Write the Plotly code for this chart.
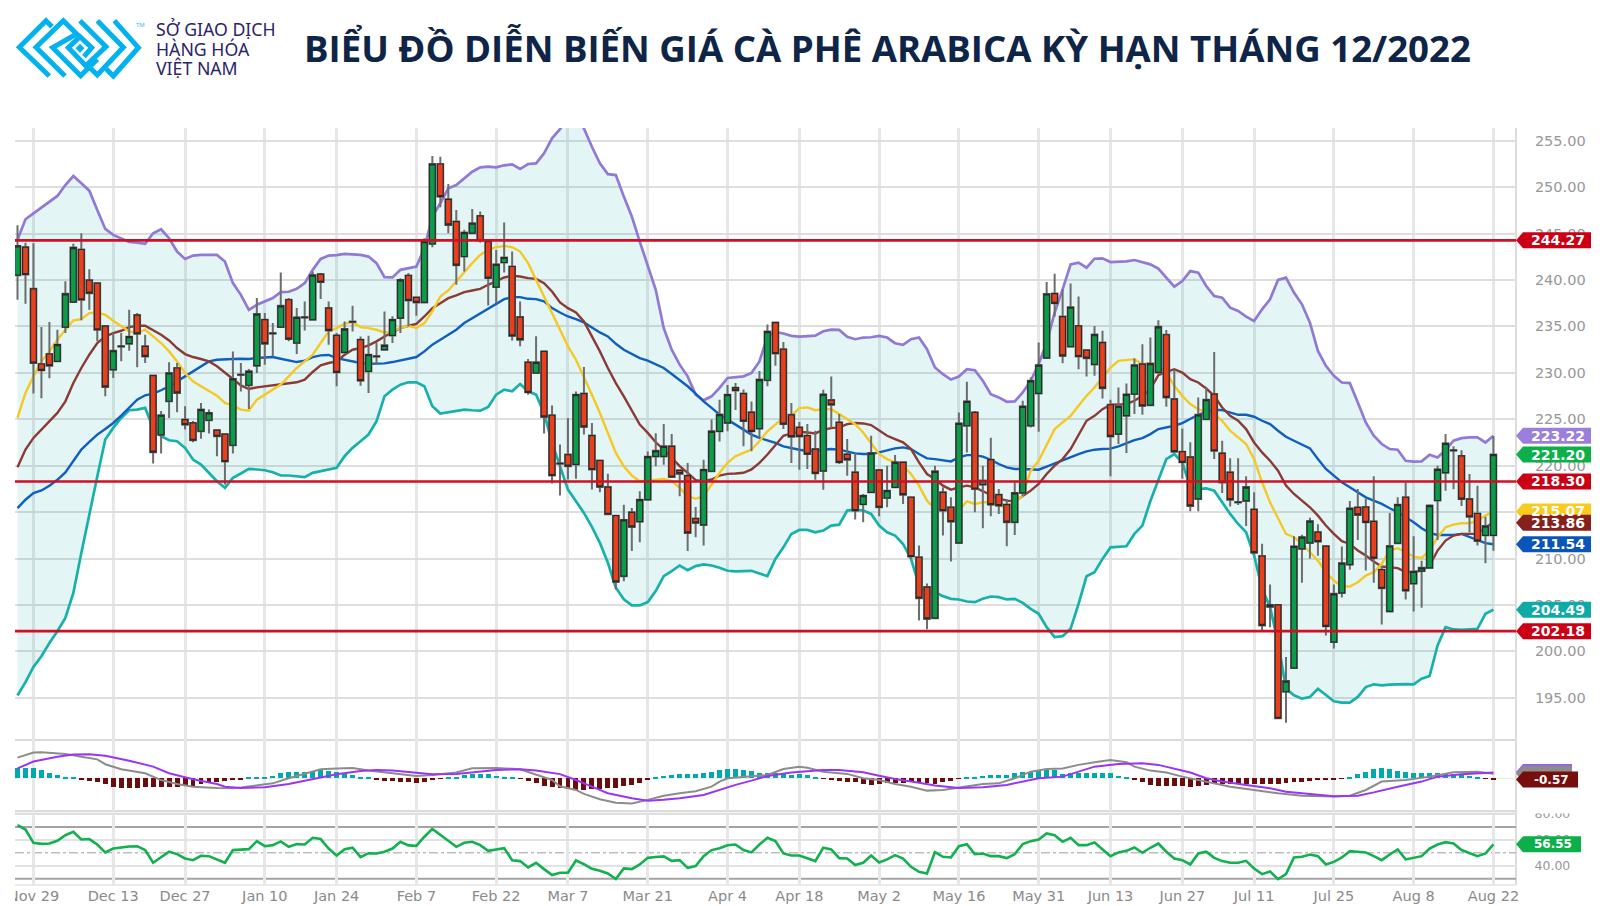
import plotly.graph_objects as go

W, H = 1602, 906
BAR0, BARW = 17.5, 7.978
PLOT_L, PLOT_R = 15, 1516

title_text = "BIỂU ĐỒ DIỄN BIẾN GIÁ CÀ PHÊ ARABICA KỲ HẠN THÁNG 12/2022"
logo_lines = ["SỞ GIAO DỊCH", "HÀNG HÓA", "VIỆT NAM"]

tick_pos = [2, 12, 21, 31, 40, 50, 60, 69, 79, 89, 98, 108, 118, 128, 137, 146, 155, 165, 175, 185]
tick_labels = ["Nov 29", "Dec 13", "Dec 27", "Jan 10", "Jan 24", "Feb 7", "Feb 22", "Mar 7", "Mar 21", "Apr 4",
               "Apr 18", "May 2", "May 16", "May 31", "Jun 13", "Jun 27", "Jul 11", "Jul 25", "Aug 8", "Aug 22"]

opens = [240.52,243.53,239.05,230.95,232.03,231.24,234.93,237.62,243.28,239.98,
 239.66,235.04,230.34,232.87,233.14,236.22,232.85,229.7,223.32,226.94,
 230.52,224.96,224.6,223.71,224.89,223.82,223.39,222.2,229.82,228.66,
 230.77,235.72,234.27,234.93,237.87,233.21,235.99,235.72,240.63,236.97,
 234.03,232.2,235.52,233.57,230.16,231.79,232.49,234.03,235.9,240.48,
 238.12,237.58,243.89,252.49,248.69,246.29,242.53,245.04,246.9,244.14,
 239.23,241.88,241.45,236.0,231.13,229.98,232.31,225.43,220.25,221.2,
 220.13,227.76,223.24,220.56,217.7,214.62,208.1,214.98,213.98,216.34,
 221.0,221.0,222.08,219.5,218.92,214.3,213.62,219.4,223.7,224.6,
 228.4,227.76,225.75,224.0,229.2,235.41,232.54,225.48,224.12,223.23,
 221.79,219.43,227.06,224.66,221.22,219.28,215.84,217.13,219.53,216.52,
 217.67,220.36,216.6,210.14,206.92,203.58,217.13,215.52,211.68,224.3,
 225.73,217.96,220.65,216.88,215.81,213.91,217.06,224.3,227.78,231.61,
 238.53,236.06,232.83,235.05,232.44,230.9,233.26,226.56,223.4,225.38,
 227.71,230.93,226.52,230.04,234.1,227.17,221.51,220.93,216.42,225.0,
 227.71,221.33,219.28,216.08,216.2,215.29,210.27,205.0,205.0,195.65,
 198.2,211.05,211.68,212.84,211.33,201.0,206.3,209.35,215.5,215.55,
 214.0,208.8,204.3,211.65,216.6,207.3,208.65,209.0,216.25,219.25,
 221.67,221.05,216.4,214.85,212.5,212.5]
highs = [245.9,244.0,243.96,234.93,235.47,234.64,239.87,243.9,245.04,241.16,
 239.7,235.1,234.28,234.28,236.79,236.43,234.1,229.8,225.9,231.13,
 231.06,226.4,224.8,226.76,226.04,223.89,223.46,232.31,231.06,230.4,
 238.05,236.43,235.36,240.81,238.05,236.97,237.69,240.9,240.74,237.69,
 234.28,235.54,237.22,233.9,234.0,233.2,236.61,236.1,240.18,240.74,
 238.2,244.5,253.35,253.28,250.34,247.54,245.4,247.65,247.37,244.3,
 243.24,246.18,243.06,237.69,231.5,233.93,232.3,226.47,222.28,225.14,
 228.0,230.63,224.6,220.6,219.14,214.7,215.8,215.45,217.24,221.54,
 223.5,224.5,223.4,219.6,220.3,215.56,220.65,224.96,227.1,228.7,
 228.9,228.2,226.9,230.2,235.2,235.5,233.33,226.74,224.7,224.48,
 223.76,228.17,229.61,225.56,222.87,221.43,216.95,223.23,219.64,220.0,
 221.15,220.4,216.6,211.4,207.3,220.0,217.67,216.6,225.73,229.03,
 225.9,220.0,223.0,217.5,216.4,218.2,227.0,229.5,233.26,239.78,
 240.68,239.0,239.61,238.21,232.5,235.05,234.52,227.1,228.42,228.85,
 231.54,233.08,233.8,235.66,234.62,230.36,224.0,222.51,227.35,228.42,
 232.25,222.69,220.79,220.8,218.85,217.15,211.6,207.2,205.1,199.4,
 212.4,212.55,214.4,213.7,211.4,207.2,211.3,216.2,217.5,216.4,
 218.85,209.2,214.9,216.6,218.2,212.4,209.75,215.85,220.0,223.4,
 222.1,221.65,219.1,217.85,214.5,223.2]
lows = [237.87,237.44,227.76,227.26,229.41,231.24,234.28,237.6,235.65,236.79,
 233.39,227.47,229.44,231.24,232.38,230.59,231.06,220.23,221.3,225.14,
 225.75,223.89,222.53,222.89,223.46,221.02,217.97,221.3,228.0,226.1,
 229.98,230.88,231.77,234.93,233.39,232.03,234.57,235.72,237.94,233.03,
 228.55,232.2,234.46,228.62,227.83,230.88,232.49,233.2,234.28,235.0,
 236.15,237.58,243.53,247.83,245.04,239.48,240.9,245.0,244.03,237.26,
 237.5,240.8,233.49,232.85,227.65,229.9,223.46,218.08,216.8,218.5,
 218.6,223.35,217.44,217.15,214.75,206.67,207.56,210.8,211.76,216.34,
 219.93,220.1,218.7,216.7,210.8,212.3,211.4,219.3,222.6,223.7,
 226.0,222.1,221.56,223.0,228.55,230.77,223.94,220.29,219.57,219.64,
 218.49,217.42,224.12,220.18,218.92,214.19,213.9,217.06,214.55,215.52,
 217.67,215.88,209.96,203.33,202.37,203.5,212.47,209.68,211.68,221.43,
 214.98,213.26,214.55,214.8,211.33,212.54,216.7,224.12,223.66,231.6,
 236.06,231.04,232.83,230.39,229.61,229.68,227.24,218.85,222.33,221.36,
 225.56,225.48,226.5,229.9,226.34,221.43,218.6,215.1,215.1,225.0,
 220.72,217.06,215.6,215.77,213.5,210.45,202.3,202.6,192.7,192.3,
 198.2,207.4,210.0,210.3,201.7,200.3,205.8,208.8,212.0,208.7,
 207.4,202.9,204.3,211.65,205.6,204.3,204.7,208.9,212.0,217.3,
 217.45,215.65,212.8,211.4,209.5,210.85]
closes = [243.67,240.59,231.06,230.27,230.77,233.03,238.51,243.49,237.87,238.58,
 234.64,228.48,232.38,232.83,233.89,234.21,231.77,221.45,225.43,229.98,
 227.83,224.43,222.74,226.04,225.68,223.17,220.45,229.34,229.78,230.16,
 236.33,233.14,234.23,237.22,233.64,235.97,235.95,240.52,239.77,234.57,
 230.05,234.71,235.48,229.16,231.95,231.75,232.96,235.72,240.0,237.8,
 237.58,244.14,252.49,248.98,245.93,241.59,245.11,246.11,244.25,240.2,
 241.67,242.42,233.99,233.57,227.9,231.13,225.25,218.94,220.21,219.95,
 227.65,224.18,219.59,217.72,214.77,207.49,214.16,213.4,216.34,220.97,
 221.6,222.08,218.78,219.14,212.76,213.84,219.57,223.7,225.5,227.65,
 228.1,224.8,223.7,229.27,234.44,232.08,224.48,223.12,223.15,221.25,
 219.18,227.67,226.56,220.36,220.65,215.16,216.77,221.36,215.52,217.31,
 220.36,216.88,210.22,205.73,203.51,219.39,215.16,213.98,224.55,226.92,
 217.49,218.39,215.81,215.7,213.91,217.06,226.38,229.14,230.82,238.49,
 237.49,231.83,237.06,231.76,231.58,234.12,228.35,223.15,226.38,227.67,
 230.82,226.45,231.0,234.95,227.35,221.51,220.36,215.66,225.48,227.1,
 221.61,218.2,216.34,216.04,217.7,210.63,202.8,204.8,192.8,196.8,
 211.3,212.3,214.02,211.83,202.7,206.2,209.5,215.4,214.7,213.9,
 210.05,206.8,211.35,215.8,206.55,208.6,209.0,215.7,219.6,222.4,
 221.63,216.4,214.5,211.9,213.5,221.2]

band_upper = [244.32,246.54,247.18,247.83,248.44,249.05,250.23,251.2,250.41,249.62,
 247.54,245.5,244.85,244.46,244.1,244.03,243.89,245.03,245.46,244.5,
 243.06,242.27,242.63,242.7,242.7,242.7,241.99,239.66,238.4,236.79,
 237.33,237.69,238.05,238.69,238.73,239.05,239.66,241.09,242.27,242.63,
 242.67,242.81,242.78,242.7,242.52,241.81,240.3,240.27,241.09,241.27,
 241.45,243.42,246.83,248.26,249.87,250.23,250.95,251.66,252.13,252.2,
 252.13,252.35,252.45,251.95,252.49,252.56,253.64,255.25,256.25,257.6,
 257.6,256.32,254.35,252.56,251.4,251.3,248.98,246.83,244.14,241.45,
 238.94,234.82,232.49,230.88,229.62,227.65,227.04,227.47,228.37,229.44,
 229.51,229.62,229.98,231.23,233.92,234.41,234.23,233.98,233.9,233.94,
 234.01,234.48,234.66,234.62,233.87,233.62,233.8,233.83,233.98,233.8,
 233.19,233.01,233.62,233.8,232.54,230.57,229.85,229.28,229.6,230.39,
 230.28,229.14,227.7,227.35,226.88,226.92,227.88,229.14,230.93,233.26,
 236.48,238.99,241.68,241.86,241.32,242.29,242.33,241.93,241.93,242.0,
 242.15,241.93,241.68,241.22,240.25,239.28,239.89,240.96,240.79,239.35,
 238.28,238.1,237.02,236.66,236.05,235.59,236.84,237.92,240.0,240.25,
 238.64,237.38,235.41,232.36,230.75,229.67,228.96,228.89,226.81,224.66,
 223.22,222.33,221.79,221.72,220.53,220.43,220.46,221.18,220.89,221.68,
 222.69,222.97,223.04,223.04,222.5,223.22]
band_lower = [195.25,196.68,198.33,199.48,200.91,202.17,203.6,206.29,210.59,214.53,
 218.83,222.81,224.07,225.14,225.97,226.04,226.22,224.07,223.17,222.74,
 222.63,221.92,220.66,220.12,219.23,218.33,217.61,218.69,219.16,219.66,
 219.59,219.51,219.3,218.94,218.94,218.83,218.76,219.23,219.41,219.51,
 219.77,221.02,221.92,222.63,223.35,224.78,227.47,228.19,228.73,228.98,
 228.98,228.55,226.4,225.61,225.75,225.93,226.04,225.97,225.93,226.32,
 227.65,228.19,228.01,228.8,228.01,227.65,225.68,222.45,220.0,217.42,
 216.17,214.91,213.41,211.69,209.54,206.85,205.6,204.95,204.95,205.31,
 206.49,208.1,208.64,209.25,208.75,209.18,209.36,209.25,209.0,208.68,
 208.61,208.61,208.68,208.39,208.1,209.96,211.2,212.65,213.08,213.08,
 212.83,213.01,213.55,213.65,215.16,215.27,215.16,214.8,213.55,212.83,
 212.47,211.57,209.96,207.09,206.31,206.38,205.95,205.66,205.59,205.37,
 205.3,205.66,205.91,205.84,205.59,205.66,205.23,204.58,204.05,202.61,
 201.54,201.64,202.43,205.12,208.1,208.53,209.96,211.2,211.29,211.32,
 212.65,213.55,216.2,218.4,220.71,221.25,220.36,217.67,217.49,217.56,
 217.31,216.05,214.8,213.72,212.83,210.32,206.73,204.76,201.0,195.98,
 195.27,194.91,195.09,195.98,195.27,194.62,194.48,194.48,195.09,196.16,
 196.45,196.34,196.41,196.48,196.48,196.45,197.06,197.35,200.64,202.61,
 202.36,202.33,202.36,202.43,204.05,204.49]
ma_yellow = [225.14,227.83,229.62,231.23,232.31,233.56,234.64,235.64,235.79,236.43,
 236.5,236.25,235.61,235.0,234.46,234.28,234.64,233.92,233.21,232.31,
 231.23,229.98,229.08,228.55,228.01,227.54,226.75,226.47,226.04,225.93,
 227.11,227.65,228.12,228.73,229.62,230.52,231.23,231.95,233.21,234.46,
 234.82,235.28,235.46,234.93,234.82,234.64,234.35,234.46,234.82,235.07,
 234.82,235.36,236.61,238.22,238.87,239.84,240.91,241.81,242.7,243.24,
 243.53,243.67,243.53,243.06,241.81,240.02,238.4,236.61,234.64,232.85,
 231.41,229.62,227.65,225.68,223.53,221.38,219.94,218.94,218.33,218.4,
 218.51,218.58,218.33,217.61,216.72,216.43,216.72,217.97,219.23,220.3,
 221.02,221.38,221.74,222.63,223.71,224.42,225.19,225.37,226.2,226.27,
 225.98,226.09,226.09,225.55,225.02,224.48,223.58,222.43,221.25,220.71,
 220.36,219.99,219.1,217.85,216.23,215.34,215.34,214.98,215.16,216.16,
 215.88,216.06,216.06,215.7,215.52,216.06,216.77,219.46,220.53,222.15,
 223.94,224.66,225.37,226.45,227.52,228.42,229.5,230.57,231.29,231.4,
 231.47,230.93,231.04,230.75,230.03,228.6,227.52,226.63,226.09,225.73,
 225.55,224.84,223.76,223.04,222.33,220.71,218.21,216.05,214.26,212.65,
 212.29,211.57,210.68,209.78,208.53,207.63,207.02,206.99,207.45,208.17,
 208.53,209.42,210.86,211.11,210.68,210.21,210.07,210.86,212.29,213.37,
 213.65,213.8,213.8,214.08,214.62,215.07]
ma_brown = [219.84,221.74,222.99,223.89,224.78,225.68,226.93,228.9,230.52,231.95,
 233.21,233.92,234.28,234.53,234.93,235.07,235.07,234.57,234.1,233.49,
 232.67,232.02,231.7,231.49,231.23,230.7,229.98,229.34,228.65,228.26,
 228.44,228.55,228.65,228.8,228.9,228.98,229.26,230.09,230.8,231.06,
 231.23,231.95,232.49,232.67,232.96,233.39,233.92,234.39,234.82,235.07,
 235.28,236.07,236.97,237.5,238.04,238.33,238.69,238.87,239.05,239.48,
 239.84,240.27,240.45,240.37,240.2,240.12,239.66,238.76,237.58,236.97,
 236.5,235.54,233.92,232.31,230.52,228.9,227.47,225.86,224.42,223.53,
 222.52,221.74,220.84,219.95,219.23,218.44,218.33,218.51,218.94,219.12,
 219.16,219.23,219.59,220.3,221.2,222.27,223.22,223.47,223.65,223.58,
 223.47,223.87,224.05,224.12,224.48,224.59,224.55,224.37,223.83,223.22,
 222.86,222.51,221.79,220.36,219.1,218.56,217.85,217.42,217.67,217.85,
 217.67,217.24,216.84,216.48,216.23,216.16,216.77,217.31,218.03,219.1,
 220.0,220.71,221.79,223.4,224.84,225.37,226.09,226.56,226.56,226.63,
 226.99,227.52,228.24,229.75,230.1,230.39,230.03,229.32,228.96,228.31,
 227.52,226.27,225.37,224.84,223.94,222.5,221.43,220.53,219.46,217.85,
 216.95,216.23,215.52,214.62,213.55,212.65,211.86,211.57,210.86,210.32,
 209.67,209.14,209.06,208.96,208.53,208.53,208.7,209.24,210.86,211.93,
 212.47,212.65,212.65,212.65,213.37,213.86]
ma_blue = [215.43,216.33,217.05,217.33,217.84,218.48,219.27,220.45,221.74,222.56,
 223.35,223.96,224.6,225.39,226.22,227.11,227.58,227.76,228.12,228.55,
 229.08,229.62,230.16,230.7,231.23,231.41,231.41,231.49,231.52,231.49,
 231.59,231.66,231.7,231.52,231.31,231.16,231.31,231.7,231.88,231.92,
 231.59,231.41,231.23,231.06,230.98,230.98,231.02,231.16,231.34,231.49,
 231.7,232.31,233.03,233.56,234.1,234.64,235.36,235.89,236.43,236.97,
 237.5,237.94,238.15,238.15,237.97,237.94,237.69,236.97,236.5,236.07,
 235.79,235.43,234.89,234.35,233.92,233.13,232.49,232.02,231.59,231.31,
 230.95,230.52,229.87,229.26,228.55,227.76,226.93,226.22,225.5,224.96,
 224.42,223.89,223.35,222.99,222.74,222.45,222.08,221.86,221.72,221.58,
 221.61,221.72,221.79,221.72,221.5,221.32,221.25,221.25,221.43,221.68,
 221.86,221.97,221.79,221.25,220.79,220.71,220.61,220.46,220.89,221.14,
 221.14,220.97,220.64,220.18,219.82,219.64,219.64,219.64,219.57,219.89,
 220.25,220.53,220.89,221.25,221.54,221.72,221.79,221.83,222.08,222.43,
 222.76,222.97,223.4,223.94,224.12,224.3,224.59,225.02,225.48,225.8,
 226.02,225.98,225.73,225.48,225.48,225.27,224.84,224.48,223.76,223.12,
 222.69,222.26,221.86,220.71,219.64,218.92,218.21,217.67,217.13,216.59,
 216.23,215.88,215.41,214.98,214.44,213.9,213.26,212.76,212.54,212.54,
 212.54,212.65,212.29,211.93,211.65,211.54]

macd_x = [0,1,2,3,4,6,8,10,11,13,16,18,20,22,25,27,28,30,32,34,36,38,40,42,44,47,50,52,55,57,60,63,65,67,
 68,70,71,73,75,77,79,81,83,85,87,88,89,92,94,96,98,99,101,104,106,108,110,112,114,116,118,121,123,125,127,129,131,
 133,135,137,139,140,142,144,146,148,150,152,155,158,161,165,167,169,171,174,177,180,183,185]
macd_line = [9.4,10.6,11.7,11.8,11.5,11.1,9.8,8.6,6.4,4.1,2.3,-0.8,-2.6,-3.8,-4.4,-4.5,-4.2,-3.3,-2.3,0.0,2.0,4.1,4.5,4.7,3.5,2.3,1.06,1.5,2.6,4.6,4.7,4.1,1.5,-0.76,
 -3.6,-5.3,-7.1,-9.5,-11.1,-11.4,-9.8,-7.9,-6.8,-5.9,-3.8,-1.5,0.0,0.76,1.5,4.2,5.2,4.8,3.0,2.0,0.0,-0.8,-2.6,-3.8,-5.6,-5.3,-4.2,-2.6,-2.3,0.0,3.0,4.2,4.5,
 6.1,7.3,8.3,7.3,5.3,3.5,2.6,0.76,-0.76,-2.3,-3.8,-5.3,-6.8,-7.9,-8.3,-7.9,-5.3,-1.5,-0.76,0.76,2.7,3.0,2.03]
signal_x = [0,2,5,7,9,11,14,17,19,22,25,26,28,31,34,36,38,40,43,45,47,50,52,55,57,60,63,65,
 68,70,72,74,77,79,81,83,86,88,90,92,94,97,99,101,103,106,108,110,113,115,118,121,124,126,128,
 131,133,135,138,141,143,145,147,149,151,154,157,159,162,165,168,170,173,176,178,181,185]
signal_line = [4.5,7.6,9.8,10.8,10.9,10.2,8.0,5.3,2.3,-0.45,-2.6,-3.8,-4.4,-4.1,-2.6,-1.06,0.45,1.8,3.3,3.8,3.5,2.6,1.8,2.0,2.7,3.8,4.1,3.5,
 1.9,-0.76,-3.8,-6.8,-9.1,-10.2,-9.8,-9.1,-7.6,-5.3,-3.0,-1.06,1.06,2.6,3.2,3.8,3.8,2.7,1.2,-0.3,-2.0,-3.3,-4.4,-4.1,-3.0,-1.5,0.0,
 0.76,3.0,5.3,6.5,6.8,6.1,4.5,2.6,0.0,-1.5,-3.0,-4.5,-6.1,-7.3,-8.2,-7.9,-6.4,-3.8,-1.5,0.76,1.8,2.6]
macd_hist = [4.5,4.5,4.8,3.8,2.6,1.5,0.8,0.3,-0.8,-1.1,
 -1.5,-2.7,-3.8,-4.5,-4.5,-4.4,-4.1,-4.1,-4.1,-4.1,
 -3.8,-3.5,-3.5,-2.6,-1.8,-1.5,-1.2,-0.8,-0.5,0.15,
 0.5,0.8,1.1,2.3,2.7,3.0,3.0,3.3,3.8,3.5,
 2.7,2.3,1.5,0.5,0.15,-0.8,-1.1,-1.2,-1.5,-1.8,
 -2.0,-1.5,-0.6,-0.3,0.3,0.8,1.4,1.8,1.8,1.8,
 1.2,0.8,0.5,-0.3,-1.1,-2.3,-3.5,-4.1,-4.5,-5.0,
 -5.3,-5.3,-5.0,-5.0,-4.5,-4.2,-3.5,-3.0,-2.0,-0.5,
 0.8,1.1,1.7,1.8,1.8,1.8,2.3,3.0,3.8,4.4,
 4.4,3.8,3.3,2.6,2.3,2.3,1.8,1.5,1.8,1.5,
 0.5,-0.1,-0.8,-1.2,-1.5,-1.8,-2.6,-2.9,-2.6,-2.3,
 -2.3,-2.3,-1.8,-1.8,-2.3,-2.6,-1.5,-1.1,-0.3,0.3,
 0.8,1.1,1.5,1.5,1.5,2.3,3.0,3.0,3.5,3.8,
 3.8,2.0,2.3,2.3,2.3,2.3,2.3,2.3,1.2,0.3,
 -0.8,-1.8,-3.0,-3.3,-3.3,-3.5,-3.5,-3.8,-3.5,-3.0,
 -2.7,-2.6,-2.6,-2.6,-2.7,-2.7,-2.7,-2.4,-2.4,-2.0,
 -1.8,-1.5,-1.2,-0.8,-0.5,-0.5,-0.15,0.3,1.8,2.7,
 4.1,4.8,4.4,3.5,2.7,2.6,2.6,2.3,2.3,2.0,
 2.0,1.5,1.2,0.8,-0.3,-0.57]
rsi = [71.4,68.0,57.7,56.9,57.2,59.3,63.6,66.2,60.3,60.6,
 56.4,50.3,53.3,54.1,54.9,55.1,52.1,42.3,46.4,50.8,
 49.0,45.6,44.3,47.7,47.4,44.9,42.3,52.1,52.6,52.8,
 59.0,55.1,55.9,58.8,54.6,56.7,56.4,61.6,60.6,53.3,
 47.9,52.8,53.9,46.7,49.7,49.5,50.8,53.3,58.5,55.7,
 55.4,62.4,68.5,63.6,59.3,54.6,57.7,58.5,55.9,51.5,
 52.8,53.6,44.3,43.6,38.7,42.3,37.4,32.8,34.6,34.6,
 44.1,41.2,37.6,36.1,34.0,29.7,37.9,37.4,41.0,46.1,
 46.7,47.2,43.8,44.3,38.4,39.7,47.4,52.1,53.6,55.9,
 56.4,52.1,50.3,56.4,61.6,59.0,49.5,47.9,47.9,45.6,
 43.6,53.9,52.6,45.9,45.6,40.5,42.3,47.9,42.5,44.9,
 48.2,45.6,39.2,35.3,34.0,50.5,46.9,46.4,55.1,56.7,
 49.0,49.5,47.4,47.4,45.9,49.0,56.7,59.0,60.3,64.9,
 63.6,58.5,61.6,55.9,55.9,58.0,52.8,47.4,50.3,51.5,
 54.1,50.0,53.9,57.2,50.8,45.6,44.3,41.0,49.5,50.8,
 46.1,43.6,42.3,42.3,43.8,37.9,33.5,35.6,29.7,33.5,
 46.4,46.9,48.7,47.4,41.0,43.0,46.4,51.3,50.8,50.3,
 47.4,44.3,48.7,52.6,44.9,46.4,47.4,53.3,56.4,58.2,
 57.2,52.1,50.0,47.4,49.5,56.55]

price_ticks = [255, 250, 245, 240, 235, 230, 225, 220, 215, 210, 205, 200, 195]
red_levels = [244.27, 218.30, 202.18]
rsi_ticks = [80, 60, 40]
rsi_dark = [70, 30]
rsi_mid = 50

n = len(opens)
bars = list(range(n))

# ---- layout helpers: page pixels to paper fractions
fx = lambda p: p / W
fy = lambda p: 1 - p / H

MAIN_T, MAIN_B = 128, 740
MACD_T, MACD_B = 740, 811
RSI_T, RSI_B = 813.8, 885
x_range = [(PLOT_L - BAR0) / BARW, (PLOT_R - BAR0) / BARW]
px_per_unit = 9.285
main_range = [255 - (MAIN_B - 140.7) / px_per_unit, 255 + (140.7 - MAIN_T) / px_per_unit]
macd_range = [-(MACD_B - 778.3) / 2.2, (778.3 - MACD_T) / 2.2]
rsi_range = [30 - (RSI_B - 878.7) / 1.295, 70 + (826.9 - RSI_T) / 1.295]

GREEN, RED = "#0b9c49", "#e8401d"
C_UP, C_LOW = "#9179d6", "#17b1ab"
C_Y, C_BR, C_BL = "#f6c823", "#8b3b34", "#0f5fbe"

fig = go.Figure()
fill = "rgba(20,170,170,0.115)"
fig.add_trace(go.Scatter(x=bars, y=band_lower, mode="lines", line=dict(color=C_LOW, width=2.7), xaxis="x", yaxis="y", showlegend=False))
fig.add_trace(go.Scatter(x=bars, y=band_upper, mode="lines", line=dict(color=C_UP, width=2.7), fill="tonexty", fillcolor=fill, xaxis="x", yaxis="y", showlegend=False))
for vals, col in [(ma_blue, C_BL), (ma_brown, C_BR), (ma_yellow, C_Y)]:
    fig.add_trace(go.Scatter(x=bars, y=vals, mode="lines", line=dict(color=col, width=2.4), xaxis="x", yaxis="y", showlegend=False))

# candles sit on an overlay axis so they stay above the lines
fig.add_trace(go.Candlestick(x=bars, open=opens, high=highs, low=lows, close=closes, xaxis="x", yaxis="y4", whiskerwidth=0,
                             increasing=dict(line=dict(color="#6d6d6d", width=2), fillcolor=GREEN),
                             decreasing=dict(line=dict(color="#6d6d6d", width=2), fillcolor=RED), showlegend=False))
body_hi = [max(o, c) for o, c in zip(opens, closes)]
body_lo = [min(o, c) for o, c in zip(opens, closes)]
fig.add_trace(go.Candlestick(x=bars, open=opens, high=body_hi, low=body_lo, close=closes, xaxis="x", yaxis="y4", whiskerwidth=0,
                             increasing=dict(line=dict(color="#2b2b2b", width=1.2), fillcolor=GREEN),
                             decreasing=dict(line=dict(color="#2b2b2b", width=1.2), fillcolor=RED), showlegend=False))

# MACD panel
fig.add_trace(go.Bar(x=bars, y=macd_hist, width=0.62, xaxis="x2", yaxis="y2", showlegend=False,
                     marker=dict(color=["#00a9ad" if v > 0 else "#6d0b0b" for v in macd_hist], line=dict(width=0))))
fig.add_trace(go.Scatter(x=macd_x, y=macd_line, mode="lines", line=dict(color="#8c8c8c", width=2), xaxis="x2", yaxis="y2", showlegend=False))
fig.add_trace(go.Scatter(x=signal_x, y=signal_line, mode="lines", line=dict(color="#9a35f5", width=2), xaxis="x2", yaxis="y2", showlegend=False))

# RSI panel
fig.add_trace(go.Scatter(x=bars, y=rsi, mode="lines", line=dict(color="#12b04f", width=2.6), xaxis="x3", yaxis="y3", showlegend=False))

shapes = []
annots = []
def hline_paper(y, color="#dadada", width=2, x0=PLOT_L, x1=PLOT_R):
    shapes.append(dict(type="line", xref="paper", yref="paper", x0=fx(x0), x1=fx(x1), y0=fy(y), y1=fy(y), layer="below",
                       line=dict(color=color, width=width)))

hline_paper(MACD_T); hline_paper(MACD_B); hline_paper(RSI_T)
shapes.append(dict(type="line", xref="paper", yref="paper", x0=fx(PLOT_R), x1=fx(PLOT_R), y0=fy(MAIN_T), y1=fy(RSI_B), layer="below", line=dict(color="#dcdcdc", width=2)))
hline_paper(RSI_B, color="#e4e4e4", width=1.5)

for lv in rsi_dark:
    shapes.append(dict(type="line", xref="paper", yref="y3", x0=fx(PLOT_L), x1=fx(PLOT_R), y0=lv, y1=lv, layer="below", line=dict(color="#a3a3a3", width=2)))
shapes.append(dict(type="line", xref="paper", yref="y3", x0=fx(PLOT_L), x1=fx(PLOT_R), y0=rsi_mid, y1=rsi_mid, layer="below", line=dict(color="#bdbdbd", width=1.6, dash="dashdot")))
shapes.append(dict(type="line", xref="paper", yref="y2", x0=fx(PLOT_L), x1=fx(PLOT_R), y0=0, y1=0, layer="below", line=dict(color="#e6e6e6", width=1)))

for lv in red_levels:
    shapes.append(dict(type="line", xref="paper", yref="y", x0=fx(PLOT_L), x1=fx(PLOT_R), y0=lv, y1=lv, layer="above", line=dict(color="#cf0f23", width=2.6)))

# mask: clips the left label and the top of the 80.00 label, as the screenshot does
shapes.append(dict(type="rect", xref="paper", yref="paper", x0=0, x1=fx(15), y0=0, y1=fy(887), layer="above", fillcolor="white", line=dict(width=0)))
shapes.append(dict(type="rect", xref="paper", yref="paper", x0=fx(1518), x1=1, y0=fy(813.5), y1=fy(795), layer="above", fillcolor="white", line=dict(width=0)))

def tag(value, yref, color, text, width=75, half=8, size=14):
    path = f"M0,0 L7,{half} L{width},{half} L{width},{-half} L7,{-half} Z"
    s = dict(type="path", xref="paper", yref=yref, xsizemode="pixel", ysizemode="pixel", xanchor=fx(PLOT_R), yanchor=value,
             path=path, layer="above", fillcolor=color, line=dict(width=0))
    shapes.append(s)
    annots.append(dict(xref="paper", yref=yref, x=fx(PLOT_R + width / 2 + 4), y=value, text=f"<b>{text}</b>", showarrow=False,
                       xanchor="center", yanchor="middle", font=dict(family="DejaVu Sans", size=size, color="white")))

tag(244.27, "y", "#cc0014", "244.27")
tag(223.22, "y", "#9b7fdc", "223.22")
tag(221.20, "y", "#0cb04a", "221.20")
tag(218.30, "y", "#cc0014", "218.30")
tag(215.07, "y", "#f8cb1e", "215.07")
tag(213.86, "y", "#86201c", "213.86")
tag(211.54, "y", "#0a55b8", "211.54")
tag(204.49, "y", "#0eaba6", "204.49")
tag(202.18, "y", "#cc0014", "202.18")
# MACD: purple and gray tags peek out behind the maroon histogram tag
for v, c in [(2.9, "#9a5ff0"), (2.03, "#8c8c8c")]:
    shapes.append(dict(type="path", xref="paper", yref="y2", xsizemode="pixel", ysizemode="pixel", xanchor=fx(PLOT_R), yanchor=v,
                       path="M0,0 L7,8 L56,8 L56,-8 L7,-8 Z", layer="above", fillcolor=c, line=dict(width=0)))
tag(-0.57, "y2", "#780d0d", "-0.57", width=62, size=12)
tag(56.55, "y3", "#0cb04a", "56.55", width=65, size=12)

# title + logo text
annots.append(dict(xref="paper", yref="paper", x=fx(302), y=fy(48), text=f"<b>{title_text}</b>", showarrow=False, xanchor="left", yanchor="middle",
                   font=dict(family="Open Sans", size=36.6, color="#0e2548")))
for txt, yy in zip(logo_lines, [29, 49, 68]):
    annots.append(dict(xref="paper", yref="paper", x=fx(154), y=fy(yy), text=txt, showarrow=False, xanchor="left", yanchor="middle",
                       font=dict(family="Noto Sans", size=17.7, color="#2b2468")))
annots.append(dict(xref="paper", yref="paper", x=fx(140), y=fy(25), text="TM", showarrow=False, xanchor="center", yanchor="middle",
                   font=dict(family="Noto Sans", size=6, color="#35b8ea")))

# logo (meander mark), page pixels = 10 + zoom / 3
LOGO = "#02b2f0"
logo_paths = [
    [(118, 198), (28, 112), (108, 32), (126, 50)],
    [(165, 198), (78, 112), (160, 32), (200, 72), (128, 113), (212, 197), (262, 148)],
    [(210, 32), (288, 110), (222, 172)],
    [(222, 140), (245, 113), (210, 80), (175, 113), (236, 176)],
    [(262, 32), (340, 112), (262, 195), (240, 173)],
    [(313, 32), (385, 113), (310, 198), (288, 176)],
]
for pts in logo_paths:
    d = "M" + " L".join(f"{fx(10 + a / 3):.5f},{fy(10 + b / 3):.5f}" for a, b in pts)
    shapes.append(dict(type="path", xref="paper", yref="paper", path=d, layer="above", line=dict(color=LOGO, width=5), fillcolor="rgba(0,0,0,0)"))
cx, cy = 10 + 210 / 3, 10 + 115 / 3
d = f"M{fx(cx - 4.5):.5f},{fy(cy):.5f} L{fx(cx):.5f},{fy(cy - 4.5):.5f} L{fx(cx + 4.5):.5f},{fy(cy):.5f} L{fx(cx):.5f},{fy(cy + 4.5):.5f} Z"
shapes.append(dict(type="path", xref="paper", yref="paper", path=d, layer="above", fillcolor=LOGO, line=dict(width=0)))

x_common = dict(range=x_range, domain=[fx(PLOT_L), fx(PLOT_R)], tickmode="array", tickvals=tick_pos, showgrid=True,
                gridcolor="#e7e7e7", gridwidth=3, zeroline=False, showline=False, ticks="")
gray = "#979797"
fig.update_layout(
    width=W, height=H, margin=dict(l=0, r=0, t=0, b=0, autoexpand=False), paper_bgcolor="white", plot_bgcolor="white",
    showlegend=False, barmode="overlay", boxmode="overlay", boxgap=0.15, boxgroupgap=0.15, bargap=0,
    xaxis=dict(**x_common, anchor="y", showticklabels=False, rangeslider=dict(visible=False)),
    xaxis2=dict(**x_common, anchor="y2", showticklabels=False),
    xaxis3=dict(**x_common, anchor="y3", showticklabels=True, ticktext=tick_labels,
                tickfont=dict(family="DejaVu Sans", size=14.5, color="#8a8a8a")),
    yaxis=dict(domain=[fy(MAIN_B), fy(MAIN_T)], range=main_range, side="right", anchor="x", tickmode="array", tickvals=price_ticks,
               ticktext=[f"{v:.2f}" for v in price_ticks], showgrid=True, gridcolor="#dedede", gridwidth=1.5, zeroline=False,
               ticks="outside", ticklen=15, tickcolor="rgba(0,0,0,0)", tickfont=dict(family="DejaVu Sans", size=14.5, color=gray)),
    yaxis2=dict(domain=[fy(MACD_B), fy(MACD_T)], range=macd_range, side="right", anchor="x2", showgrid=False, zeroline=False, showticklabels=False),
    yaxis3=dict(domain=[fy(RSI_B), fy(RSI_T)], range=rsi_range, side="right", anchor="x3", tickmode="array", tickvals=rsi_ticks,
                ticktext=[f"{v:.2f}" for v in rsi_ticks], showgrid=True, gridcolor="#e2e2e2", gridwidth=1.5, zeroline=False,
                ticks="outside", ticklen=15, tickcolor="rgba(0,0,0,0)", tickfont=dict(family="DejaVu Sans", size=12.5, color=gray)),
    yaxis4=dict(overlaying="y", range=main_range, side="right", anchor="x", showgrid=False, zeroline=False, showticklabels=False),
    shapes=shapes, annotations=annots,
)
fig.write_html("out.html", config={"displayModeBar": False},
               post_script="document.body.style.margin='0';document.documentElement.style.overflow='hidden';")
